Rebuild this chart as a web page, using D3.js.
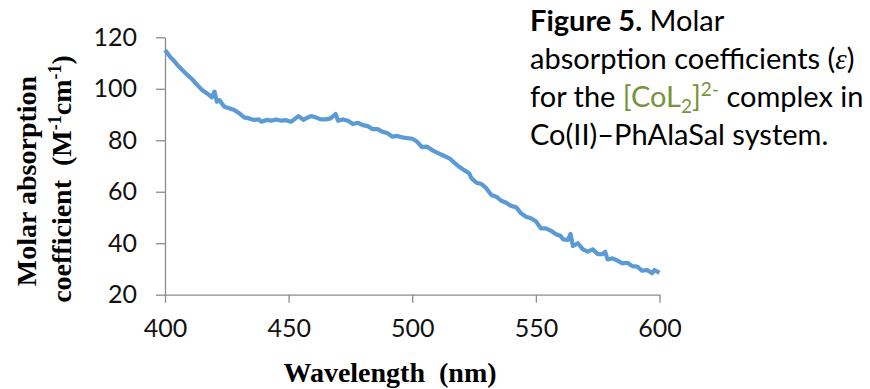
<!DOCTYPE html>
<html>
<head>
<meta charset="utf-8">
<script src="https://cdn.jsdelivr.net/npm/d3@7"></script>
<style>
  html, body { margin: 0; padding: 0; background: #fff; }
  svg { display: block; }
</style>
</head>
<body>
<svg id="chart" width="870" height="389"></svg>
<script>
// ---- data ----
const wavelength = [400,402,404,405,407,409,411,413,415,417,419,420,421,422,424,426,428,430,432,434,436,438,439,441,443,445,447,449,451,452,454,456,457,459,461,463,465,467,469,470,472,474,476,478,480,482,484,486,488,490,492,494,496,498,500,502,504,506,508,510,513,515,517,519,521,523,524,526,528,530,532,534,536,538,540,542,544,546,548,550,552,554,556,558,560,561,563,564,565,567,569,571,573,575,577,578,579,581,583,585,587,589,591,593,595,597,598,600];
const epsilon = [115.1,112.5,110.5,109.2,107.3,105.4,103.7,101.5,99.5,98.2,96.7,98.9,95.0,95.6,93.0,92.4,91.8,90.5,88.9,88.5,87.9,88.1,87.2,87.9,87.6,88.1,87.6,87.8,87.2,87.9,89.4,87.9,88.5,89.4,88.9,88.1,88.1,88.5,90.2,87.6,88.1,87.6,86.3,86.8,85.9,85.5,84.3,84.3,83.3,82.7,81.4,81.7,81.1,80.8,80.6,79.4,77.3,77.5,76.2,75.2,73.9,73.0,71.3,69.7,68.4,67.2,65.2,63.5,63.0,61.3,58.7,58.1,56.5,55.7,54.5,54.0,51.6,50.3,49.7,48.5,45.8,45.8,44.9,43.6,42.8,41.5,41.3,43.6,38.9,40.0,37.6,36.7,37.6,35.8,35.8,36.7,33.7,34.1,33.2,32.2,32.4,31.1,30.9,29.3,29.6,28.3,29.6,28.5];
const xTicks = [400,450,500,550,600];
const yTicks = [20,40,60,80,100,120];
const xTitle = "Wavelength  (nm)";
const yTitle1 = "Molar absorption";
const yTitle2 = "coefficient  (M";
const captionLines = ["Figure 5.", " Molar", "absorption coefficients (", "ε", ")", "for the ", "[CoL", "2", "]", "2-", " complex in", "Co(II)–PhAlaSal system."];

// ---- layout ----
const svg = d3.select("#chart");
const mLeft = 165, mRight = 659.5, mTop = 37.3, mBottom = 294.7;
const x = d3.scaleLinear().domain([400, 600]).range([mLeft, mRight]);
const y = d3.scaleLinear().domain([20, 120]).range([mBottom, mTop]);
const axisColor = "#8c8c8c";
const tickFont = "Lato, 'Open Sans', sans-serif";

// x axis
const gx = svg.append("g").attr("transform", `translate(0,${mBottom})`)
  .call(d3.axisBottom(x).tickValues(xTicks).tickSize(8).tickSizeOuter(0).tickPadding(17));
// y axis
const gy = svg.append("g").attr("transform", `translate(${mLeft},0)`)
  .call(d3.axisLeft(y).tickValues(yTicks).tickSize(9).tickSizeOuter(0).tickPadding(19));
[gx, gy].forEach(g => {
  g.selectAll("path, line").attr("stroke", axisColor).attr("stroke-width", 1.3);
  g.selectAll("text").attr("font-family", tickFont).attr("font-size", 25).attr("fill", "#111");
});

// line
const line = d3.line().x((d, i) => x(wavelength[i])).y(d => y(d));
svg.append("path").datum(epsilon)
  .attr("d", line)
  .attr("fill", "none")
  .attr("stroke", "#5b9bd5")
  .attr("stroke-width", 4.2)
  .attr("stroke-linejoin", "round");

// x title
const serif = "'Liberation Serif', 'Times New Roman', serif";
svg.append("text")
  .attr("x", 390).attr("y", 382)
  .attr("text-anchor", "middle")
  .attr("font-family", serif)
  .attr("font-weight", "bold").attr("font-size", 28)
  .style("white-space", "pre")
  .text(xTitle);

// y title (two rotated lines)
svg.append("text")
  .attr("transform", "translate(36,181) rotate(-90)")
  .attr("text-anchor", "middle")
  .attr("font-family", serif).attr("font-weight", "bold").attr("font-size", 28)
  .text(yTitle1);
const t2 = svg.append("text")
  .attr("transform", "translate(71,179) rotate(-90)")
  .attr("text-anchor", "middle")
  .attr("font-family", serif).attr("font-weight", "bold").attr("font-size", 28)
  .style("white-space", "pre");
t2.append("tspan").text(yTitle2);
t2.append("tspan").attr("font-size", 18).attr("dy", -10).text("-1");
t2.append("tspan").attr("dy", 10).text("cm");
t2.append("tspan").attr("font-size", 18).attr("dy", -10).text("-1");
t2.append("tspan").attr("dy", 10).text(")");

// caption
const capFont = "Lato, 'Open Sans', sans-serif";
const capX = 530, capSize = 29, green = "#77933c";
const cap = svg.append("g").attr("font-family", capFont).attr("font-size", capSize).attr("fill", "#000");
const l1 = cap.append("text").attr("x", capX).attr("y", 31).style("white-space", "pre");
l1.append("tspan").attr("font-weight", "bold").text(captionLines[0]);
l1.append("tspan").text(captionLines[1]);
const l2 = cap.append("text").attr("x", capX).attr("y", 69).style("white-space", "pre");
l2.append("tspan").text(captionLines[2]);
l2.append("tspan").attr("font-family", serif).attr("font-style", "italic").text(captionLines[3]);
l2.append("tspan").text(captionLines[4]);
const l3 = cap.append("text").attr("x", capX).attr("y", 107).style("white-space", "pre");
l3.append("tspan").text(captionLines[5]);
l3.append("tspan").attr("fill", green).text(captionLines[6]);
l3.append("tspan").attr("fill", green).attr("font-size", 19).attr("dy", 6).text(captionLines[7]);
l3.append("tspan").attr("fill", green).attr("dy", -6).text(captionLines[8]);
l3.append("tspan").attr("fill", green).attr("font-size", 19).attr("dy", -11).text(captionLines[9]);
l3.append("tspan").attr("dy", 11).text(captionLines[10]);
const l4 = cap.append("text").attr("x", capX).attr("y", 145).style("white-space", "pre");
l4.append("tspan").text(captionLines[11]);
</script>
</body>
</html>
